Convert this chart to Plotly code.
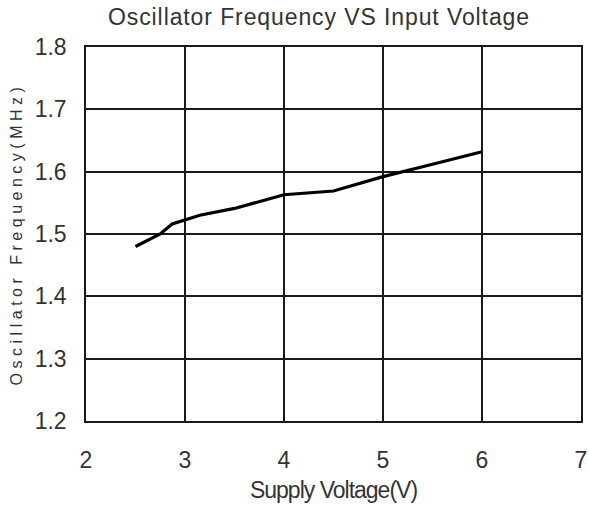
import plotly.graph_objects as go

voltage = [2.5, 2.75, 2.87, 3.0, 3.15, 3.5, 4.0, 4.5, 5.0, 5.5, 6.0]
frequency = [1.48, 1.50, 1.516, 1.522, 1.530, 1.541, 1.563, 1.569, 1.592, 1.612, 1.632]
x_ticks = [2, 3, 4, 5, 6, 7]
y_ticks = [1.2, 1.3, 1.4, 1.5, 1.6, 1.7, 1.8]

fig = go.Figure()
fig.add_trace(go.Scatter(x=voltage, y=frequency, mode="lines",
                         line=dict(color="black", width=3.2), showlegend=False))

font = "Liberation Sans, Arial, sans-serif"
W, H = 589, 513
fig.update_layout(
    width=W, height=H,
    margin=dict(l=86, r=8, t=47, b=92, autoexpand=False),
    paper_bgcolor="white", plot_bgcolor="white",
    title=dict(text='<span style="letter-spacing:0.9px">Oscillator Frequency VS Input Voltage</span>',
               x=319 / W, xref="container", xanchor="center",
               y=1 - 17 / H, yref="container", yanchor="middle",
               font=dict(family=font, size=23, color="#333")),
    font=dict(family=font, color="#222"),
)
fig.update_xaxes(range=[2, 7], tickvals=x_ticks, ticktext=[str(v) for v in x_ticks],
                 showgrid=True, gridcolor="#1a1a1a", gridwidth=1.5,
                 showline=True, linecolor="#1a1a1a", linewidth=1.5, mirror=True,
                 ticks="", ticklabelstandoff=18, tickfont=dict(size=23, family=font, color="#333"),
                 zeroline=False, automargin=False,
                 title=dict(text='<span style="letter-spacing:-1px">Supply Voltage(V)</span>', standoff=10,
                            font=dict(size=23, family=font, color="#333")))
fig.update_yaxes(range=[1.2, 1.8], tickvals=y_ticks, ticktext=[f"{v:.1f}" for v in y_ticks],
                 showgrid=True, gridcolor="#1a1a1a", gridwidth=1.5,
                 showline=True, linecolor="#1a1a1a", linewidth=1.5, mirror=True,
                 ticks="", ticklabelstandoff=13, tickfont=dict(size=23, family=font, color="#333"),
                 zeroline=False, automargin=False,
                 title=dict(text='<span style="letter-spacing:4.5px">Oscillator Frequency(MHz)</span>', standoff=8,
                            font=dict(size=16, family=font, color="#333")))

fig.write_html("out.html", config={"displayModeBar": False},
               post_script="document.body.style.margin='0';document.body.style.overflow='hidden';")
